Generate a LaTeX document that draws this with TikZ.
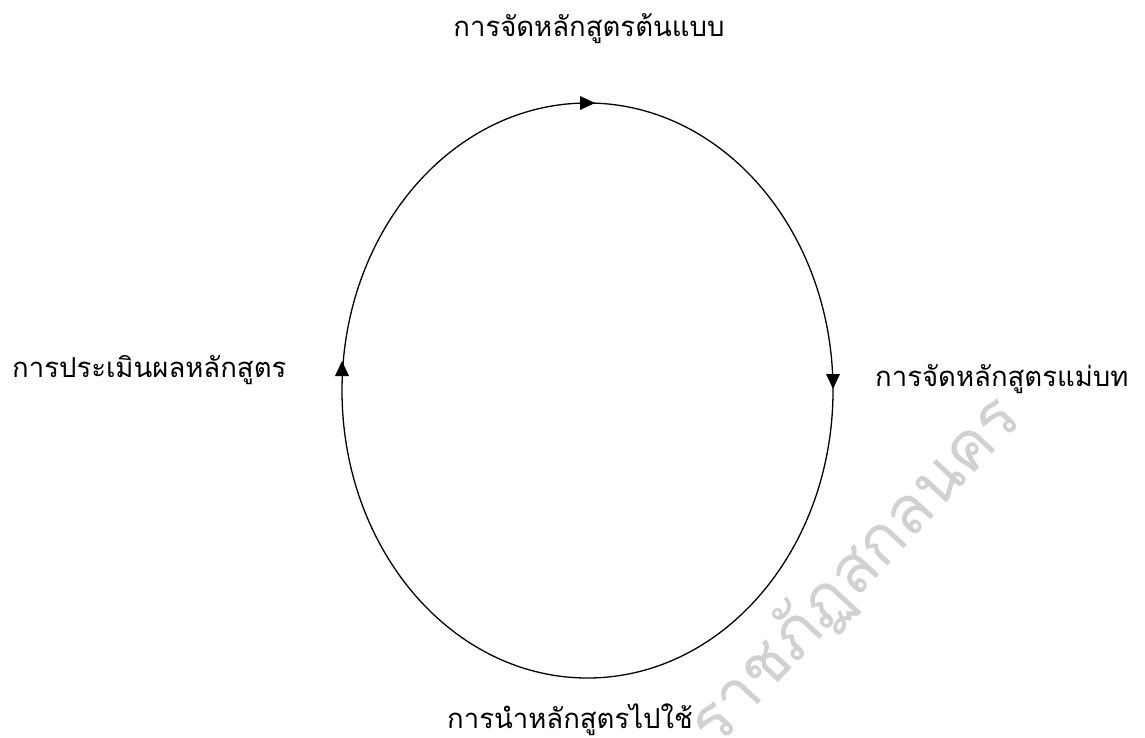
\documentclass[tikz,border=0pt]{standalone}
\usepackage{fontspec}
\newfontfamily\thaifont[Script=Thai]{Loma}
\begin{document}
\begin{tikzpicture}[x=1pt,y=-1pt,
  lbl/.style={font=\thaifont\fontsize{27.5}{32}\selectfont, inner sep=0pt},
  tri/.style={fill=black},
  wm/.style={font=\thaifont\fontsize{66}{72}\selectfont, text=black!18, inner sep=0pt}]
\useasboundingbox (0,0) rectangle (1145,738);
\clip (0,0) rectangle (1145,738);
% watermark
\node[wm, rotate=47, anchor=base west] (wm) at (716,750) {ราชภัฏสกลนคร};
% cycle
\draw[line width=1.3pt] (587.5,390.5) ellipse [x radius=245.5, y radius=287.5];
\fill[tri] (595,103) -- (580,96) -- (580,110) -- cycle;
\fill[tri] (833,389) -- (826,374) -- (840,374) -- cycle;
\fill[tri] (342,361) -- (335,376) -- (349,376) -- cycle;
% labels
\node[lbl, anchor=base] (top) at (589,37) {การจัดหลักสูตรต้นแบบ};
\node[lbl, anchor=base west] (right) at (875,386) {การจัดหลักสูตรแม่บท};
\node[lbl, anchor=base west] (left) at (12,377) {การประเมินผลหลักสูตร};
\node[lbl, anchor=base] (bottom) at (570,728) {การนำหลักสูตรไปใช้};
\end{tikzpicture}
\end{document}
